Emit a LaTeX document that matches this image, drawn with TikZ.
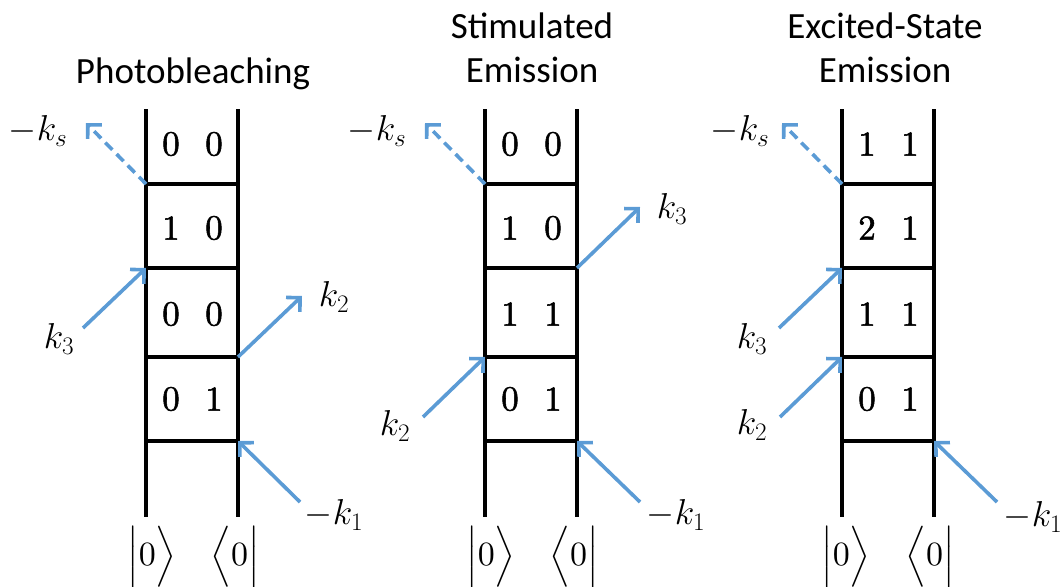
\RequirePackage{fix-cm}
\documentclass[tikz,border=0pt]{standalone}
\usepackage{fontspec}
\newfontfamily\titlefont{Carlito}
\newfontfamily\digitfont{lmroman10-regular.otf}[FakeBold=1.6]
\usetikzlibrary{arrows.meta}
\definecolor{arrowblue}{RGB}{91,155,213}
\tikzset{
 rail/.style={line width=4pt},
 beam/.style={draw=arrowblue, line width=3.6pt, -{Straight Barb[length=10pt,width=20pt]}},
 beamdash/.style={beam, dash pattern=on 10pt off 6pt},
 digit/.style={font=\digitfont\fontsize{35}{40}\selectfont, inner sep=0pt},
 mlabel/.style={font=\fontsize{36}{40}\selectfont, inner sep=0pt},
 ket/.style={scale=3.4, inner sep=0pt},
 ttl/.style={font=\titlefont\fontsize{37}{44}\selectfont, anchor=base, inner sep=0pt},
}
\begin{document}
\begin{tikzpicture}[x=1pt,y=-1pt]
\useasboundingbox (0,0) rectangle (1064,586);

% ---------- Diagram 1: Photobleaching ----------
\node[ttl] (t1) at (193,83) {Photobleaching};
\coordinate (L1t) at (146,109); \coordinate (L1b) at (146,517);
\coordinate (R1t) at (238,109); \coordinate (R1b) at (238,517);
\draw[rail] (L1t) -- (L1b); \draw[rail] (R1t) -- (R1b);
\foreach \y/\n in {184/a,268/b,357/c,441/d}{
  \coordinate (L1\n) at (146,\y); \coordinate (R1\n) at (238,\y);
  \draw[rail] (L1\n) -- (R1\n);}
\node[digit] (d1a) at (171,144) {0}; \node[digit] (d1b) at (214,144) {0};
\node[digit] (d1c) at (171,228) {1}; \node[digit] (d1d) at (214,228) {0};
\node[digit] (d1e) at (171,314) {0}; \node[digit] (d1f) at (214,314) {0};
\node[digit] (d1g) at (171,399) {0}; \node[digit] (d1h) at (214,399) {1};
\coordinate (s1) at (86,123);
\coordinate (k31) at (83,328);
\coordinate (k21) at (302,296);
\coordinate (k11) at (300,502);
\draw[beamdash] (L1a) -- (s1);
\draw[beam] (k31) -- (L1b);
\draw[beam] (R1c) -- (k21);
\draw[beam] (k11) -- (R1d);
\node[mlabel] (ls1) at (38,131) {$-k_s$};
\node[mlabel] (l31) at (59,339) {$k_3$};
\node[mlabel] (l21) at (334,297) {$k_2$};
\node[mlabel] (l11) at (334,515) {$-k_1$};
\node[ket] (b1) at (152,557) {$\Big|0\Big\rangle$};
\node[ket] (r1) at (235,557) {$\Big\langle0\Big|$};

% ---------- Diagram 2: Stimulated Emission ----------
\node[ttl] (t2a) at (532,39) {Stimulated};
\node[ttl] (t2b) at (532,82) {Emission};
\coordinate (L2t) at (485,109); \coordinate (L2b) at (485,517);
\coordinate (R2t) at (577,109); \coordinate (R2b) at (577,517);
\draw[rail] (L2t) -- (L2b); \draw[rail] (R2t) -- (R2b);
\foreach \y/\n in {184/a,268/b,357/c,441/d}{
  \coordinate (L2\n) at (485,\y); \coordinate (R2\n) at (577,\y);
  \draw[rail] (L2\n) -- (R2\n);}
\node[digit] (d2a) at (510,144) {0}; \node[digit] (d2b) at (553,144) {0};
\node[digit] (d2c) at (510,228) {1}; \node[digit] (d2d) at (553,228) {0};
\node[digit] (d2e) at (510,314) {1}; \node[digit] (d2f) at (553,314) {1};
\node[digit] (d2g) at (510,399) {0}; \node[digit] (d2h) at (553,399) {1};
\coordinate (s2) at (425,123);
\coordinate (k32) at (640,207);
\coordinate (k22) at (423,417);
\coordinate (k12) at (640,502);
\draw[beamdash] (L2a) -- (s2);
\draw[beam] (R2b) -- (k32);
\draw[beam] (k22) -- (L2c);
\draw[beam] (k12) -- (R2d);
\node[mlabel] (ls2) at (377,131) {$-k_s$};
\node[mlabel] (l32) at (672,209) {$k_3$};
\node[mlabel] (l22) at (395,426) {$k_2$};
\node[mlabel] (l12) at (676,515) {$-k_1$};
\node[ket] (b2) at (491,557) {$\Big|0\Big\rangle$};
\node[ket] (r2) at (574,557) {$\Big\langle0\Big|$};

% ---------- Diagram 3: Excited-State Emission ----------
\node[ttl] (t3a) at (885,39) {Excited-State};
\node[ttl] (t3b) at (885,82) {Emission};
\coordinate (L3t) at (842,109); \coordinate (L3b) at (842,517);
\coordinate (R3t) at (934,109); \coordinate (R3b) at (934,517);
\draw[rail] (L3t) -- (L3b); \draw[rail] (R3t) -- (R3b);
\foreach \y/\n in {184/a,268/b,357/c,441/d}{
  \coordinate (L3\n) at (842,\y); \coordinate (R3\n) at (934,\y);
  \draw[rail] (L3\n) -- (R3\n);}
\node[digit] (d3a) at (867,144) {1}; \node[digit] (d3b) at (910,144) {1};
\node[digit] (d3c) at (867,228) {2}; \node[digit] (d3d) at (910,228) {1};
\node[digit] (d3e) at (867,314) {1}; \node[digit] (d3f) at (910,314) {1};
\node[digit] (d3g) at (867,399) {0}; \node[digit] (d3h) at (910,399) {1};
\coordinate (s3) at (782,123);
\coordinate (k33) at (779,328);
\coordinate (k23) at (780,417);
\coordinate (k13) at (997,502);
\draw[beamdash] (L3a) -- (s3);
\draw[beam] (k33) -- (L3b);
\draw[beam] (k23) -- (L3c);
\draw[beam] (k13) -- (R3d);
\node[mlabel] (ls3) at (740,131) {$-k_s$};
\node[mlabel] (l33) at (752,339) {$k_3$};
\node[mlabel] (l23) at (752,425) {$k_2$};
\node[mlabel] (l13) at (1033,517) {$-k_1$};
\node[ket] (b3) at (846,557) {$\Big|0\Big\rangle$};
\node[ket] (r3) at (930,557) {$\Big\langle0\Big|$};
\end{tikzpicture}
\end{document}
